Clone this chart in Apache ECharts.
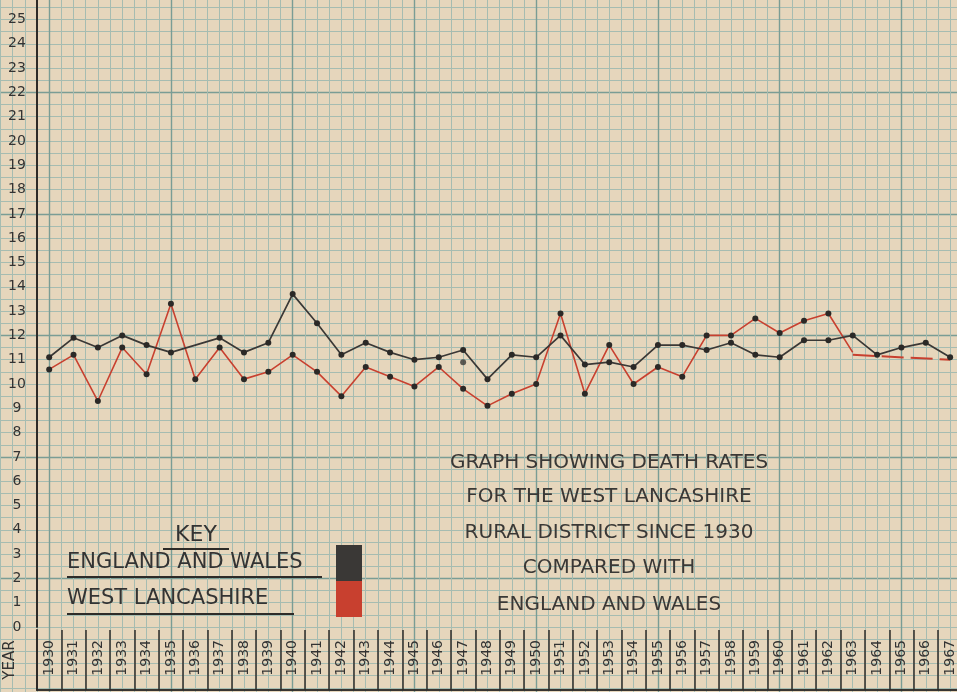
<!DOCTYPE html>
<html><head><meta charset="utf-8">
<script src="https://cdn.jsdelivr.net/npm/echarts@6/dist/echarts.min.js"></script>
<style>html,body{margin:0;padding:0;background:#e6d6bc}#c{width:957px;height:692px}</style>
</head><body><div id="c"></div>
<script>
// ---- data ----
const years = ['1930','1931','1932','1933','1934','1935','1936','1937','1938','1939',
  '1940','1941','1942','1943','1944','1945','1946','1947','1948','1949',
  '1950','1951','1952','1953','1954','1955','1956','1957','1958','1959',
  '1960','1961','1962','1963','1964','1965','1966','1967'];
const englandWales = [11.1, 11.9, 11.5, 12.0, 11.6, 11.3, null, 11.9, 11.3, 11.7,
  13.7, 12.5, 11.2, 11.7, 11.3, 11.0, 11.1, 11.4, 10.2, 11.2,
  11.1, 12.0, 10.8, 10.9, 10.7, 11.6, 11.6, 11.4, 11.7, 11.2,
  11.1, 11.8, 11.8, 12.0, 11.2, 11.5, 11.7, 11.1];
const westLancashire = [10.6, 11.2, 9.3, 11.5, 10.4, 13.3, 10.2, 11.5, 10.2, 10.5,
  11.2, 10.5, 9.5, 10.7, 10.3, 9.9, 10.7, 9.8, 9.1, 9.6,
  10.0, 12.9, 9.6, 11.6, 10.0, 10.7, 10.3, 12.0, 12.0, 12.7,
  12.1, 12.6, 12.9, 11.3, null, null, null, null];
const westLancashireDashed = [null, null, null, null, null, null, null, null, null, null,
  null, null, null, null, null, null, null, null, null, null,
  null, null, null, null, null, null, null, null, null, null,
  null, null, null, 11.2, null, null, null, 11.0];
const strayDot = [null, null, null, null, null, null, null, null, null, null,
  null, null, null, null, null, null, null, 10.9, null, null,
  null, null, null, null, null, null, null, null, null, null,
  null, null, null, null, null, null, null, null];
const yMin = 0, yMaxLabel = 25;
const captionLines = ['GRAPH SHOWING DEATH RATES', 'FOR THE WEST LANCASHIRE',
  'RURAL DISTRICT SINCE 1930', 'COMPARED WITH', 'ENGLAND AND WALES'];

// ---- layout ----
const FONT = 'DejaVu Sans';
const INK = '#2e2b28';
const RED = '#c8402f';
const L = 37, B = 24.35, W = 38 * B;      // category band width
const UNIT = 24.3, ZERO_Y = 627;           // px per unit, y of value 0
const mainTop = 0;
const yMax = (ZERO_Y - mainTop) / UNIT;

const chart = echarts.init(document.getElementById('c'));
const lastSolid = westLancashire.reduce((a, v, i) => v != null ? i : a, -1);

const option = {
  animation: false,
  backgroundColor: '#e6d6bc',
  grid: [
    { outerBoundsMode: 'none', containLabel: false,
      left: L - 4.5 * B, width: 45 * B, top: ZERO_Y - 27 * UNIT, height: 30 * UNIT },
    { outerBoundsMode: 'none', containLabel: false,
      left: L, width: W, top: mainTop, height: ZERO_Y - mainTop },
    { outerBoundsMode: 'none', containLabel: false,
      left: L, width: W, top: 630, height: 60 }
  ],
  xAxis: [
    { gridIndex: 0, type: 'value', min: 1925, max: 1970, interval: 5,
      axisLine: { show: false }, axisTick: { show: false }, axisLabel: { show: false },
      splitLine: { show: true, lineStyle: { color: '#7a9d95', width: 1.4 } },
      minorTick: { show: false, splitNumber: 10 },
      minorSplitLine: { show: true, lineStyle: { color: '#a6bcb1', width: 1 } } },
    { gridIndex: 1, type: 'category', data: years, boundaryGap: true,
      axisLine: { show: false }, axisTick: { show: false }, splitLine: { show: false },
      axisLabel: { interval: 0, rotate: 90, margin: 13, fontSize: 14, fontFamily: FONT, color: '#333' } },
    { gridIndex: 2, type: 'category', data: years, boundaryGap: true, position: 'top',
      axisLine: { show: true, lineStyle: { color: INK, width: 1.5 } },
      axisTick: { show: false }, axisLabel: { show: false },
      splitLine: { show: true, interval: 0, lineStyle: { color: INK, width: 1.5 } } },
    { gridIndex: 2, type: 'category', data: years, boundaryGap: true, position: 'bottom',
      axisLine: { show: true, lineStyle: { color: INK, width: 1.5 } },
      axisTick: { show: false }, axisLabel: { show: false }, splitLine: { show: false } }
  ],
  yAxis: [
    { gridIndex: 0, type: 'value', min: 0, max: 30, interval: 5,
      axisLine: { show: false }, axisTick: { show: false }, axisLabel: { show: false },
      splitLine: { show: true, lineStyle: { color: '#7a9d95', width: 1.4 } },
      minorTick: { show: false, splitNumber: 10 },
      minorSplitLine: { show: true, lineStyle: { color: '#a6bcb1', width: 1 } } },
    { gridIndex: 1, type: 'value', min: yMin, max: yMax, interval: 1,
      axisLine: { show: true, lineStyle: { color: INK, width: 2 } },
      axisTick: { show: false }, splitLine: { show: false },
      axisLabel: { margin: 20, align: 'center', fontSize: 14, fontFamily: FONT, color: '#333',
        showMaxLabel: false, formatter: v => (v <= yMaxLabel ? String(v) : '') } },
    { gridIndex: 2, type: 'value', min: 0, max: 1,
      axisLine: { show: true, lineStyle: { color: INK, width: 2 } },
      axisTick: { show: false }, axisLabel: { show: false }, splitLine: { show: false },
      name: 'YEAR', nameLocation: 'middle', nameRotate: 90, nameGap: 19,
      nameTextStyle: { fontSize: 15, fontFamily: FONT, color: '#333' } }
  ],
  legend: {
    selectedMode: false, orient: 'vertical', align: 'right', left: 67, top: 545,
    padding: 0, itemGap: 0, itemWidth: 26, itemHeight: 36, icon: 'rect',
    itemStyle: { borderWidth: 0 },
    formatter: '{t|{name}}',
    textStyle: { rich: { t: { width: 264, align: 'left', fontSize: 21, fontFamily: FONT, color: '#333' } } },
    data: [
      { name: 'ENGLAND AND WALES', itemStyle: { color: '#3a3836' } },
      { name: 'WEST LANCASHIRE', itemStyle: { color: RED } }
    ]
  },
  graphic: [
    ...captionLines.map((t, i) => ({
      type: 'text', x: 609, y: [463, 497, 533, 568, 605][i], z: 10,
      style: { text: t, font: '20px "' + FONT + '"', fill: '#3a3836', align: 'center', verticalAlign: 'middle' }
    })),
    { type: 'text', x: 196, y: 535, z: 10,
      style: { text: 'KEY', font: '22px "' + FONT + '"', fill: '#333', align: 'center', verticalAlign: 'middle' } },
    { type: 'line', z: 10, shape: { x1: 163, y1: 549, x2: 229, y2: 549 }, style: { stroke: INK, lineWidth: 2 } },
    { type: 'line', z: 10, shape: { x1: 67, y1: 577, x2: 322, y2: 577 }, style: { stroke: INK, lineWidth: 2 } },
    { type: 'line', z: 10, shape: { x1: 67, y1: 614, x2: 294, y2: 614 }, style: { stroke: INK, lineWidth: 2 } }
  ],
  series: [
    { name: 'ENGLAND AND WALES', type: 'line', xAxisIndex: 1, yAxisIndex: 1, data: englandWales,
      connectNulls: true, symbol: 'circle', symbolSize: 6, z: 4,
      itemStyle: { color: '#2b2927' }, lineStyle: { color: '#3a3836', width: 1.7 } },
    { name: 'WEST LANCASHIRE', type: 'line', xAxisIndex: 1, yAxisIndex: 1,
      data: westLancashire.map((v, i) => i === lastSolid ? { value: v, symbol: 'none' } : v),
      symbol: 'circle', symbolSize: 6, z: 3,
      itemStyle: { color: '#2b2927' }, lineStyle: { color: RED, width: 1.6 } },
    { name: 'WEST LANCASHIRE (projection)', type: 'line', xAxisIndex: 1, yAxisIndex: 1,
      data: westLancashireDashed, connectNulls: true, symbol: 'none', z: 3,
      lineStyle: { color: RED, width: 2, type: [22, 7] } },
    { name: 'mark', type: 'scatter', xAxisIndex: 1, yAxisIndex: 1, data: strayDot,
      symbolSize: 6, z: 4, itemStyle: { color: '#3a3836' } }
  ]
};
chart.setOption(option);
</script></body></html>
